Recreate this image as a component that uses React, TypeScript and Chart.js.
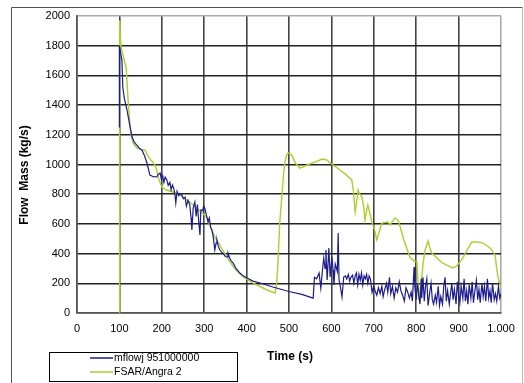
import React, { useEffect, useRef } from "react";
import { Chart, registerables } from "chart.js";

Chart.register(...registerables);

const xTickLabels = ["0", "100", "200", "300", "400", "500", "600", "700", "800", "900", "1.000"];
const yTicks = [0, 200, 400, 600, 800, 1000, 1200, 1400, 1600, 1800, 2000];

const seriesNames = ["mflowj 951000000", "FSAR/Angra 2"];

const blueX = [
  100, 100, 103, 106, 108, 112, 118, 124, 130, 135, 141, 147, 153, 159, 165, 172, 180, 188, 192, 196,
  199, 202, 205, 208, 212, 215, 219, 222, 225, 228, 231, 233, 236, 240, 243, 247, 251, 255, 258, 262,
  266, 269, 271, 274, 278, 281, 284, 287, 290, 292, 296, 299, 302, 305, 309, 312, 315, 318, 321, 325,
  328, 330, 333, 337, 341, 345, 350, 354, 356, 360, 364, 368, 375, 384, 392, 401, 415, 432, 445, 462,
  500, 530, 557, 560, 565, 571, 575, 578, 582, 585, 587, 590, 594, 597, 601, 604, 606, 609, 611, 614,
  616, 618, 621, 625, 629, 633, 636, 640, 643, 646, 650, 653, 656, 659, 662, 665, 668, 671, 674, 677,
  680, 683, 686, 689, 692, 696, 700, 703, 707, 711, 715, 719, 722, 726, 730, 733, 737, 740, 744, 748,
  752, 756, 760, 764, 768, 772, 776, 780, 784, 788, 791, 795, 797, 800, 803, 806, 809, 812, 813, 816,
  819, 822, 825, 828, 832, 835, 838, 841, 845, 848, 852, 855, 858, 862, 865, 868, 871, 874, 878, 881,
  884, 887, 890, 894, 897, 900, 903, 906, 910, 913, 916, 919, 922, 925, 929, 932, 935, 938, 942, 945,
  948, 951, 955, 958, 961, 964, 968, 971, 974, 977, 980, 984, 987, 990, 994, 997, 1000,
];
const blueY = [
  1250, 1800, 1750, 1700, 1520, 1440, 1367, 1270, 1185, 1150, 1131, 1110, 1098, 1060, 1010, 929, 918, 916, 935, 943,
  900, 925, 880, 915, 896, 860, 880, 830, 862, 842, 800, 741, 820, 790, 805, 795, 770, 780, 720, 760,
  727, 640, 559, 707, 747, 650, 730, 620, 525, 693, 690, 720, 700, 660, 613, 640, 580, 559, 520, 424,
  470, 492, 450, 424, 410, 400, 380, 377, 404, 370, 350, 337, 300, 269, 250, 236, 215, 202, 190, 175,
  145, 125, 100, 240, 230, 269, 168, 260, 370, 300, 424, 222, 438, 242, 377, 290, 189, 330, 310, 280,
  539, 222, 180, 108, 242, 250, 230, 260, 215, 240, 255, 200, 250, 270, 190, 260, 220, 270, 190, 250,
  230, 260, 200, 250, 230, 140, 180, 150, 120, 170, 130, 180, 110, 160, 200, 140, 240, 130, 180, 100,
  170, 140, 210, 150, 120, 80, 170, 140, 100, 140, 80, 310, 170, 90, 200, 120, 60, 230, 100, 240,
  80, 180, 230, 50, 140, 200, 90, 60, 120, 70, 180, 50, 110, 60, 180, 240, 80, 150, 60, 130,
  200, 90, 160, 60, 210, 120, 70, 180, 100, 230, 80, 150, 60, 190, 100, 210, 70, 140, 220, 90,
  160, 70, 200, 110, 180, 80, 230, 100, 150, 70, 200, 90, 130, 80, 180, 100, 130,
];

const greenX = [
  100, 100, 101, 102, 104, 110, 116, 120, 123, 127, 132, 140, 149, 160, 167, 174, 179, 186, 193, 200,
  210, 226, 245, 266, 285, 306, 315, 325, 340, 354, 361, 375, 392, 415, 448, 467, 471, 474, 478, 483,
  487, 490, 494, 498, 503, 507, 515, 526, 535, 542, 560, 578, 590, 597, 610, 620, 635, 648, 652, 656,
  660, 663, 667, 672, 676, 679, 683, 686, 690, 696, 702, 707, 712, 719, 733, 738, 745, 750, 755, 759,
  770, 785, 795, 802, 806, 810, 813, 817, 821, 828, 832, 837, 849, 860, 872, 887, 895, 903, 912, 920,
  931, 945, 958, 974, 986, 990, 993, 1000,
];
const greenY = [
  0, 1970, 1960, 1870, 1790, 1720, 1650, 1455, 1330, 1210, 1145, 1115, 1100, 1098, 1060, 1030, 1017, 983, 900, 848,
  830, 815, 790, 747, 700, 646, 580, 512, 440, 377, 343, 290, 242, 202, 155, 135, 200, 337, 600, 780,
  930, 1010, 1060, 1077, 1075, 1060, 1010, 976, 985, 996, 1015, 1037, 1030, 1010, 985, 963, 930, 896, 820, 680,
  760, 828, 800, 781, 720, 626, 690, 727, 680, 606, 560, 492, 540, 606, 613, 593, 620, 640, 630, 613,
  500, 377, 350, 343, 87, 180, 242, 350, 424, 485, 440, 404, 370, 340, 323, 303, 315, 343, 380, 424,
  478, 478, 471, 438, 391, 300, 242, 170,
];

const blueColor = "#1c1c8e";
const greenColor = "#a8d12c";

const FONT = "'Liberation Sans', Arial, sans-serif";

const decorPlugin = {
  id: "decor",
  beforeDraw(chart: any) {
    const ctx = chart.ctx;
    ctx.save();
    ctx.fillStyle = "#ffffff";
    ctx.fillRect(0, 0, chart.width, chart.height);
    ctx.strokeStyle = "#555";
    ctx.lineWidth = 1;
    ctx.beginPath();
    ctx.moveTo(11.5, 400);
    ctx.lineTo(11.5, 7.5);
    ctx.lineTo(522.5, 7.5);
    ctx.stroke();
    ctx.strokeStyle = "#bbb";
    ctx.beginPath();
    ctx.moveTo(522.5, 7.5);
    ctx.lineTo(522.5, 400);
    ctx.stroke();
    ctx.restore();
  },
  afterDraw(chart: any) {
    const ctx = chart.ctx;
    ctx.save();
    ctx.fillStyle = "#000";
    ctx.font = `bold 12px ${FONT}`;
    ctx.textAlign = "center";
    ctx.textBaseline = "middle";
    ctx.translate(25, 175);
    ctx.rotate(-Math.PI / 2);
    ctx.fillText("Flow  Mass (kg/s)", 0, 0);
    ctx.restore();

    ctx.save();
    ctx.fillStyle = "#000";
    ctx.font = `bold 12px ${FONT}`;
    ctx.textAlign = "center";
    ctx.textBaseline = "middle";
    ctx.fillText("Time (s)", 290, 357);

    ctx.strokeStyle = "#000";
    ctx.lineWidth = 1;
    ctx.strokeRect(49.5, 352.5, 188, 29);
    const colors = [blueColor, greenColor];
    const ys = [358, 372];
    ctx.font = `10.5px ${FONT}`;
    ctx.textAlign = "left";
    for (let i = 0; i < 2; i++) {
      ctx.strokeStyle = colors[i];
      ctx.lineWidth = 1.5;
      ctx.beginPath();
      ctx.moveTo(90, ys[i]);
      ctx.lineTo(113, ys[i]);
      ctx.stroke();
      ctx.fillStyle = "#000";
      ctx.fillText(seriesNames[i], 114, ys[i]);
    }
    ctx.restore();
  },
};

export default function App() {
  const ref = useRef<HTMLCanvasElement>(null);
  useEffect(() => {
    document.body.style.margin = "0";
    const canvas = ref.current!;
    const chart = new Chart(canvas, {
      type: "line",
      data: {
        datasets: [
          {
            label: seriesNames[0],
            data: blueX.map((x, i) => ({ x, y: blueY[i] })),
            borderColor: blueColor,
            borderWidth: 1.2,
            pointRadius: 0,
            tension: 0,
            fill: false,
          },
          {
            label: seriesNames[1],
            data: greenX.map((x, i) => ({ x, y: greenY[i] })),
            borderColor: greenColor,
            borderWidth: 1.4,
            pointRadius: 0,
            tension: 0,
            fill: false,
          },
        ],
      },
      options: {
        animation: false,
        responsive: false,
        maintainAspectRatio: false,
        events: [],
        layout: { padding: { left: 27, right: 23, top: 16, bottom: 30 } },
        plugins: { legend: { display: false }, tooltip: { enabled: false } },
        scales: {
          x: {
            type: "linear",
            min: 0,
            max: 1000,
            afterFit: (s: any) => {
              s.height = 40;
            },
            afterBuildTicks: (s: any) => {
              s.ticks = xTickLabels.map((_, i) => ({ value: i * 100 }));
            },
            ticks: {
              padding: 9,
              color: "#000",
              font: { family: FONT, size: 11 },
              maxRotation: 0,
              autoSkip: false,
              callback: (v: any) => xTickLabels[Math.round(Number(v) / 100)],
            },
            grid: {
              drawTicks: false,
              color: (c: any) => (c.tick && c.tick.value === 1000 ? "#aaa" : "#444"),
              lineWidth: 1.6,
            },
            border: { display: true, color: "#555", width: 1.6 },
          },
          y: {
            min: 0,
            max: 2000,
            afterFit: (s: any) => {
              s.width = 50;
            },
            afterBuildTicks: (s: any) => {
              s.ticks = yTicks.map((v) => ({ value: v }));
            },
            ticks: {
              padding: 7,
              color: "#000",
              font: { family: FONT, size: 11 },
              autoSkip: false,
              callback: (v: any) => String(v),
            },
            grid: {
              drawTicks: false,
              color: (c: any) => (c.tick && c.tick.value === 2000 ? "#aaa" : "#222"),
              lineWidth: 1.6,
            },
            border: { display: true, color: "#555", width: 1.6 },
          },
        },
      },
      plugins: [decorPlugin],
    });
    return () => chart.destroy();
  }, []);
  return (
    <canvas
      ref={ref}
      width={524}
      height={383}
      style={{ display: "block", width: 524, height: 383 }}
    />
  );
}
